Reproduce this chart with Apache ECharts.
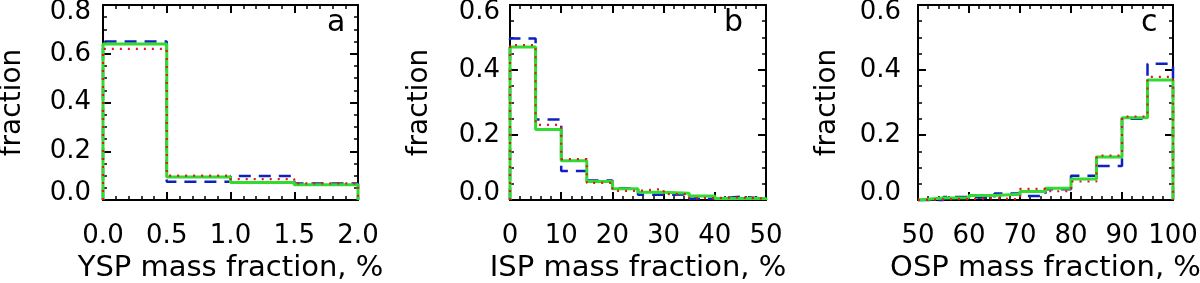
<!DOCTYPE html>
<html>
<head>
<meta charset="utf-8">
<script src="https://cdn.jsdelivr.net/npm/echarts@6/dist/echarts.min.js"></script>
<style>
html,body{margin:0;padding:0;background:#fff;}
#chart{width:1200px;height:283px;}
</style>
</head>
<body>
<div id="chart"></div>
<script>
// ---- data ----
const edgesA = [0, 0.5, 1.0, 1.5, 2.0];
const edgesB = [0, 5, 10, 15, 20, 25, 30, 35, 40, 45, 50];
const edgesC = [50, 55, 60, 65, 70, 75, 80, 85, 90, 95, 100];

const greenA = [0.640, 0.094, 0.072, 0.063];
const blueA  = [0.650, 0.075, 0.098, 0.068];
const redA   = [0.620, 0.100, 0.086, 0.068];

const greenB = [0.471, 0.217, 0.121, 0.057, 0.035, 0.024, 0.021, 0.012, 0.005, 0.005];
const blueB  = [0.497, 0.248, 0.089, 0.060, 0.036, 0.016, 0.017, 0.004, 0.010, 0.004];
const redB   = [0.477, 0.231, 0.126, 0.053, 0.028, 0.034, 0.018, 0.006, 0.008, 0.004];

const greenC = [0.006, 0.007, 0.014, 0.018, 0.026, 0.036, 0.065, 0.132, 0.253, 0.369];
const blueC  = [0.000, 0.009, 0.006, 0.020, 0.012, 0.033, 0.075, 0.105, 0.250, 0.419];
const redC   = [0.002, 0.003, 0.006, 0.002, 0.034, 0.027, 0.057, 0.137, 0.257, 0.379];

const xTitles = ['YSP mass fraction, %', 'ISP mass fraction, %', 'OSP mass fraction, %'];
const panelLetters = ['a', 'b', 'c'];
const yTitle = 'fraction';

// ---- build ----
const FONT = 'DejaVu Sans';
function steps(edges, vals) {
  const n = vals.length;
  const pts = [[edges[0], 0]];
  for (let i = 0; i < n; i++) pts.push([edges[i], vals[i]]);
  pts.push([edges[n], vals[n - 1]]);
  pts.push([edges[n], 0]);
  return pts;
}

const panels = [
  {edges: edgesA, g: greenA, b: blueA, r: redA, xmin: 0, xmax: 2, xint: 0.5, xdec: 1, ymax: 0.8, left: 103, width: 255, ylm: 12, letterLeft: 327},
  {edges: edgesB, g: greenB, b: blueB, r: redB, xmin: 0, xmax: 50, xint: 10, xdec: 0, ymax: 0.6, left: 510, width: 256, ylm: 10, letterLeft: 724},
  {edges: edgesC, g: greenC, b: blueC, r: redC, xmin: 50, xmax: 100, xint: 10, xdec: 0, ymax: 0.6, left: 918, width: 255, ylm: 17, letterLeft: 1141}
];

const grid = [], xAxis = [], yAxis = [], series = [], title = [];
const lineCol = '#000';
panels.forEach((p, i) => {
  grid.push({left: p.left, top: 5, width: p.width, height: 195, containLabel: false, outerBoundsMode: 'none'});
  const common = {
    axisLine: {show: true, onZero: false, lineStyle: {color: lineCol, width: 2}},
    axisTick: {show: true, inside: true, length: 8, lineStyle: {color: lineCol, width: 2}},
    minorTick: {show: true, length: 4, lineStyle: {color: lineCol, width: 1.5}},
    splitLine: {show: false}
  };
  xAxis.push(Object.assign({
    type: 'value', gridIndex: i, position: 'bottom', min: p.xmin, max: p.xmax, interval: p.xint,
    name: xTitles[i], nameLocation: 'middle', nameGap: 53,
    nameTextStyle: {fontFamily: FONT, fontSize: 29, color: '#000'},
    axisLabel: {show: true, margin: 23, fontFamily: FONT, fontSize: 26, color: '#000',
      formatter: v => v.toFixed(p.xdec)}
  }, common, {minorTick: Object.assign({}, common.minorTick, {splitNumber: 5})}));
  xAxis.push(Object.assign({
    type: 'value', gridIndex: i, position: 'top', min: p.xmin, max: p.xmax, interval: p.xint,
    axisLabel: {show: false}
  }, common, {minorTick: Object.assign({}, common.minorTick, {splitNumber: 5})}));
  yAxis.push(Object.assign({
    type: 'value', gridIndex: i, position: 'left', min: 0, max: p.ymax, interval: 0.2,
    name: yTitle, nameLocation: 'middle', nameGap: 76,
    nameTextStyle: {fontFamily: FONT, fontSize: 28, color: '#000'},
    axisLabel: {show: true, margin: p.ylm, fontFamily: FONT, fontSize: 26, color: '#000', lineHeight: 14,
      verticalAlignMinLabel: 'bottom', verticalAlignMaxLabel: 'top',
      formatter: v => v.toFixed(1)}
  }, common, {minorTick: Object.assign({}, common.minorTick, {splitNumber: 4})}));
  yAxis.push(Object.assign({
    type: 'value', gridIndex: i, position: 'right', min: 0, max: p.ymax, interval: 0.2,
    axisLabel: {show: false}
  }, common, {minorTick: Object.assign({}, common.minorTick, {splitNumber: 4})}));

  const xi = i * 2, yi = i * 2;
  series.push({type: 'line', xAxisIndex: xi, yAxisIndex: yi, step: 'end', symbol: 'none', clip: false,
    data: steps(p.edges, p.b), lineStyle: {color: '#1020c0', width: 2.5, type: [12, 8]}, z: 3});
  series.push({type: 'line', xAxisIndex: xi, yAxisIndex: yi, step: 'end', symbol: 'none', clip: false,
    data: steps(p.edges, p.g), lineStyle: {color: '#30dc30', width: 3, type: 'solid'}, z: 4});
  series.push({type: 'line', xAxisIndex: xi, yAxisIndex: yi, step: 'end', symbol: 'none', clip: false,
    data: steps(p.edges, p.r), lineStyle: {color: '#e01818', width: 2.2, type: [2, 6]}, z: 5});

  title.push({text: panelLetters[i], left: p.letterLeft, top: 8, padding: 0,
    textStyle: {fontFamily: FONT, fontSize: 30, fontWeight: 'normal', color: '#000'}});
});

const chart = echarts.init(document.getElementById('chart'), null, {renderer: 'canvas'});
chart.setOption({
  backgroundColor: '#fff',
  animation: false,
  title, grid, xAxis, yAxis, series
});
</script>
</body>
</html>
